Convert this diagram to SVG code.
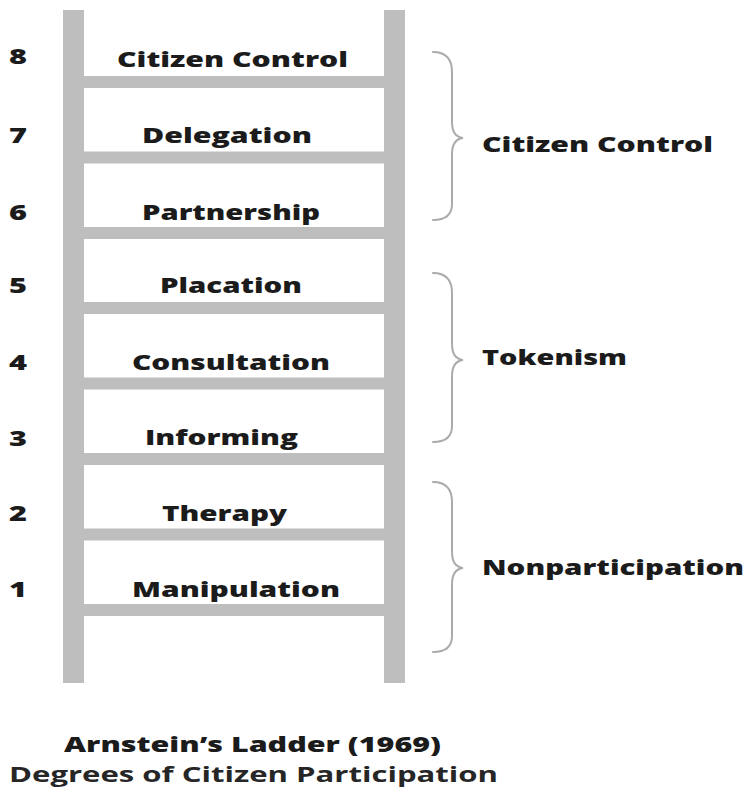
<svg xmlns="http://www.w3.org/2000/svg" width="746" height="791" viewBox="0 0 746 791">
<style>
  .rail { fill: #bebebe; }
  .t { font-family: "Open Sans", "Liberation Sans", sans-serif; font-size: 21px; font-weight: 800; fill: #1b1b1b; }
  .sub { font-weight: 700; fill: #262626; }
  .brace { fill: none; stroke: #ababab; stroke-width: 2; stroke-linecap: round; }
</style>
<rect width="746" height="791" fill="#ffffff"/>
<g id="ladder">
  <rect class="rail" x="63" y="10" width="21" height="673"/>
  <rect class="rail" x="384" y="10" width="21" height="673"/>
  <rect class="rail" x="84" y="76" width="300" height="12"/>
  <rect class="rail" x="84" y="151.5" width="300" height="12"/>
  <rect class="rail" x="84" y="227" width="300" height="12"/>
  <rect class="rail" x="84" y="302" width="300" height="12"/>
  <rect class="rail" x="84" y="377.5" width="300" height="12"/>
  <rect class="rail" x="84" y="453" width="300" height="12"/>
  <rect class="rail" x="84" y="528.5" width="300" height="12"/>
  <rect class="rail" x="84" y="604" width="300" height="12"/>
</g>
<g id="rung8"><text class="t" x="9" y="64" textLength="18" lengthAdjust="spacingAndGlyphs">8</text><text class="t" x="117" y="67" textLength="231" lengthAdjust="spacingAndGlyphs">Citizen Control</text></g>
<g id="rung7"><text class="t" x="9" y="143" textLength="18" lengthAdjust="spacingAndGlyphs">7</text><text class="t" x="142" y="143" textLength="170" lengthAdjust="spacingAndGlyphs">Delegation</text></g>
<g id="rung6"><text class="t" x="9" y="220" textLength="18" lengthAdjust="spacingAndGlyphs">6</text><text class="t" x="142" y="220" textLength="178" lengthAdjust="spacingAndGlyphs">Partnership</text></g>
<g id="rung5"><text class="t" x="9" y="293" textLength="18" lengthAdjust="spacingAndGlyphs">5</text><text class="t" x="160" y="293" textLength="142" lengthAdjust="spacingAndGlyphs">Placation</text></g>
<g id="rung4"><text class="t" x="9" y="370" textLength="18" lengthAdjust="spacingAndGlyphs">4</text><text class="t" x="132" y="370" textLength="198" lengthAdjust="spacingAndGlyphs">Consultation</text></g>
<g id="rung3"><text class="t" x="9" y="446" textLength="18" lengthAdjust="spacingAndGlyphs">3</text><text class="t" x="145" y="445" textLength="153" lengthAdjust="spacingAndGlyphs">Informing</text></g>
<g id="rung2"><text class="t" x="9" y="521" textLength="18" lengthAdjust="spacingAndGlyphs">2</text><text class="t" x="162" y="521" textLength="125" lengthAdjust="spacingAndGlyphs">Therapy</text></g>
<g id="rung1"><text class="t" x="9" y="597" textLength="18" lengthAdjust="spacingAndGlyphs">1</text><text class="t" x="132" y="597" textLength="208" lengthAdjust="spacingAndGlyphs">Manipulation</text></g>
<g id="connectors">
  <path class="brace" d="M433,52 C447,52 452,60 452,72 L452,122 C452,131 455,137 463,138 C455,139 452,145 452,154 L452,204 C452,214 447,220 433,220"/>
  <path class="brace" d="M433,273 C447,273 452,281 452,293 L452,344 C452,353 455,359 463,360 C455,361 452,367 452,376 L452,426 C452,436 447,442 433,442"/>
  <path class="brace" d="M433,482 C447,482 452,490 452,502 L452,552 C452,561 455,567 463,568 C455,569 452,575 452,584 L452,636 C452,646 447,652 433,652"/>
</g>
<g id="group-citizen-control"><text class="t" x="482" y="152" textLength="231" lengthAdjust="spacingAndGlyphs">Citizen Control</text></g>
<g id="group-tokenism"><text class="t" x="482" y="365" textLength="145" lengthAdjust="spacingAndGlyphs">Tokenism</text></g>
<g id="group-nonparticipation"><text class="t" x="482" y="575" textLength="262" lengthAdjust="spacingAndGlyphs">Nonparticipation</text></g>
<g id="caption">
  <text class="t" x="64" y="752" textLength="377" lengthAdjust="spacingAndGlyphs">Arnstein’s Ladder (1969)</text>
  <text class="t sub" x="9" y="782" textLength="489" lengthAdjust="spacingAndGlyphs">Degrees of Citizen Participation</text>
</g>
</svg>
